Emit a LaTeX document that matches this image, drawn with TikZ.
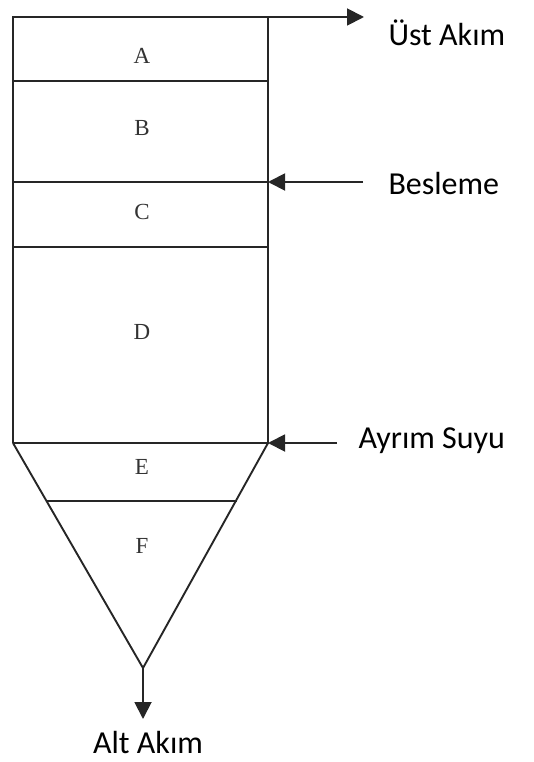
\documentclass[tikz,border=0pt]{standalone}
\usepackage{fontspec}
\setmainfont{Carlito}
\newfontfamily\zonefont{Liberation Serif}
\usetikzlibrary{arrows.meta}
\begin{document}
\begin{tikzpicture}[x=1pt,y=-1pt,
  wall/.style={line width=1.9pt,black!85},
  flow/.style={line width=1.9pt,black!85,-{Triangle[length=17pt,width=17pt]}},
  zone/.style={font=\zonefont\fontsize{23}{26}\selectfont,text=black!80},
  stream/.style={font=\fontsize{32}{35}\selectfont,text=black}]
\useasboundingbox (0,0) rectangle (533,762);
% column corners and cone apex
\coordinate (tl) at (13,17);
\coordinate (tr) at (268,17);
\coordinate (bl) at (13,443);
\coordinate (br) at (268,443);
\coordinate (apex) at (143,668);
\coordinate (fl) at (47,501);
\coordinate (fr) at (237,501);
% outer walls
\draw[wall] (bl) -- (tl) -- (tr) -- (br) -- (bl);
\draw[wall] (bl) -- (apex) -- (br);
% zone separators
\draw[wall] (13,81) -- (268,81);
\draw[wall] (13,182) -- (268,182);
\draw[wall] (13,247) -- (268,247);
\draw[wall] (fl) -- (fr);
% zone letters
\node[zone] (A) at (142,56) {A};
\node[zone] (B) at (142,128) {B};
\node[zone] (C) at (142,212) {C};
\node[zone] (D) at (142,332) {D};
\node[zone] (E) at (142,467) {E};
\node[zone] (F) at (142,546) {F};
% streams
\coordinate (feedin) at (268,182);
\coordinate (feedsrc) at (363,182);
\coordinate (watin) at (268,443);
\coordinate (watsrc) at (337,443);
\coordinate (topout) at (364,17);
\coordinate (botout) at (143,719);
\node[stream,anchor=west] (ust) at (385,33) {Üst Akım};
\node[stream,anchor=west] (bes) at (385,184) {Besleme};
\node[stream,anchor=west] (ayr) at (355,441) {Ayrım Suyu};
\node[stream] (alt) at (148,742) {Alt Akım};
\draw[flow] (tr) -- (topout);
\draw[flow] (feedsrc) -- (feedin);
\draw[flow] (watsrc) -- (watin);
\draw[flow] (apex) -- (botout);
\end{tikzpicture}
\end{document}
